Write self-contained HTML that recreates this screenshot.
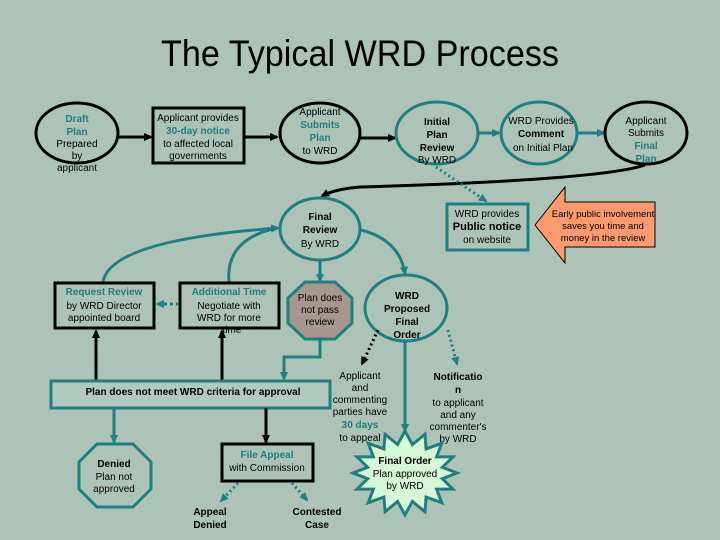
<!DOCTYPE html>
<html><head><meta charset="utf-8"><style>
html,body{margin:0;padding:0;background:#aec3b8;}
svg{display:block;}
text{font-family:"Liberation Sans",Arial,sans-serif;font-size:10px;fill:#000;text-anchor:middle;}
.b{font-weight:bold;}
.t{fill:#1f7f80;font-weight:bold;}
</style></head><body>
<svg width="720" height="540" viewBox="0 0 720 540" xmlns="http://www.w3.org/2000/svg">
<defs>
<marker id="ak" markerWidth="10" markerHeight="10" refX="7" refY="5" orient="auto" markerUnits="userSpaceOnUse"><path d="M0,1 L9,5 L0,9 z" fill="#000"/></marker>
<marker id="at" markerWidth="10" markerHeight="10" refX="7" refY="5" orient="auto" markerUnits="userSpaceOnUse"><path d="M0,1 L9,5 L0,9 z" fill="#1f7f80"/></marker>
</defs>
<rect width="720" height="540" fill="#aec3b8"/>
<text x="360" y="66" style="font-family:'Liberation Sans Narrow','Liberation Sans',sans-serif;font-size:37px" textLength="398" lengthAdjust="spacingAndGlyphs">The Typical WRD Process</text>

<!-- top row -->
<ellipse cx="77" cy="133" rx="41" ry="30" fill="none" stroke="#000" stroke-width="3"/>
<text x="77" y="122" class="t">Draft</text><text x="77" y="135" class="t">Plan</text>
<text x="77" y="147">Prepared</text><text x="77" y="159">by</text><text x="77" y="171">applicant</text>
<line x1="118" y1="137" x2="151" y2="137" stroke="#000" stroke-width="3" marker-end="url(#ak)"/>
<rect x="153" y="108" width="91" height="55" fill="none" stroke="#000" stroke-width="3"/>
<text x="198" y="121">Applicant provides</text><text x="198" y="134" class="t">30-day notice</text>
<text x="198" y="147">to affected local</text><text x="198" y="159">governments</text>
<line x1="244" y1="137" x2="277" y2="137" stroke="#000" stroke-width="3" marker-end="url(#ak)"/>
<ellipse cx="320" cy="133" rx="40" ry="30" fill="none" stroke="#000" stroke-width="3"/>
<text x="320" y="115">Applicant</text><text x="320" y="128" class="t">Submits</text><text x="320" y="141" class="t">Plan</text><text x="320" y="154">to WRD</text>
<line x1="360" y1="138" x2="395" y2="138" stroke="#000" stroke-width="3" marker-end="url(#ak)"/>
<ellipse cx="437" cy="133" rx="41" ry="31" fill="none" stroke="#1f7f80" stroke-width="3"/>
<text x="437" y="125" class="b">Initial</text><text x="437" y="138" class="b">Plan</text><text x="437" y="151" class="b">Review</text><text x="437" y="163">By WRD</text>
<line x1="478" y1="133" x2="499" y2="133" stroke="#1f7f80" stroke-width="3" marker-end="url(#at)"/>
<ellipse cx="539" cy="133" rx="38" ry="31" fill="none" stroke="#1f7f80" stroke-width="3"/>
<text x="541" y="124">WRD Provides</text><text x="541" y="137" class="b">Comment</text><text x="543" y="151">on Initial Plan</text>
<line x1="577" y1="133" x2="604" y2="133" stroke="#1f7f80" stroke-width="3" marker-end="url(#at)"/>
<ellipse cx="646" cy="133" rx="41" ry="31" fill="none" stroke="#000" stroke-width="3"/>
<text x="646" y="124">Applicant</text><text x="646" y="136">Submits</text><text x="646" y="149" class="t">Final</text><text x="646" y="162" class="t">Plan</text>

<!-- return curve -->
<path d="M645,165 Q600,180 360,187 Q335,189 322,196" fill="none" stroke="#000" stroke-width="3" marker-end="url(#ak)"/>
<path d="M436,167 L486,201" fill="none" stroke="#1f7f80" stroke-width="3" stroke-dasharray="2,3" marker-end="url(#at)"/>
<rect x="447" y="204" width="81" height="46" fill="none" stroke="#1f7f80" stroke-width="3"/>
<text x="487" y="217">WRD provides</text><text x="487" y="230" class="b" style="font-size:11px">Public notice</text><text x="487" y="243">on website</text>
<polygon points="535,225 565,187 565,202 655,202 655,247 565,247 565,263" fill="#fb9a6e" stroke="#000" stroke-width="1"/>
<text x="603" y="217" style="font-size:9.5px">Early public involvement</text><text x="603" y="229" style="font-size:9.5px">saves you time and</text><text x="603" y="241" style="font-size:9.5px">money in the review</text>

<!-- final review -->
<ellipse cx="320" cy="229" rx="40" ry="31" fill="none" stroke="#1f7f80" stroke-width="3"/>
<text x="320" y="220" class="b">Final</text><text x="320" y="233" class="b">Review</text><text x="320" y="247">By WRD</text>
<line x1="320" y1="260" x2="320" y2="281" stroke="#1f7f80" stroke-width="3" marker-end="url(#at)"/>
<path d="M361,230 Q400,240 405,274" fill="none" stroke="#1f7f80" stroke-width="3" marker-end="url(#at)"/>
<path d="M103,282 Q110,240 278,228" fill="none" stroke="#1f7f80" stroke-width="3" marker-end="url(#at)"/>
<path d="M229,282 Q225,240 276,228" fill="none" stroke="#1f7f80" stroke-width="3"/>
<polygon points="305,282 335,282 352,298 352,323 335,339 305,339 288,323 288,298" fill="#a8978f" stroke="#1f7f80" stroke-width="3"/>
<text x="320" y="301">Plan does</text><text x="320" y="313">not pass</text><text x="320" y="325">review</text>

<rect x="55" y="283" width="99" height="45" fill="none" stroke="#000" stroke-width="3"/>
<text x="104" y="295" class="t">Request Review</text><text x="104" y="309">by WRD Director</text><text x="104" y="321">appointed board</text>
<rect x="180" y="283" width="99" height="45" fill="none" stroke="#000" stroke-width="3"/>
<text x="229" y="295" class="t">Additional Time</text><text x="229" y="309">Negotiate with</text><text x="229" y="321">WRD for more</text><text x="232" y="333">time</text>
<line x1="179" y1="304" x2="157" y2="304" stroke="#1f7f80" stroke-width="3" stroke-dasharray="3,3" marker-end="url(#at)"/>
<line x1="96" y1="380" x2="96" y2="331" stroke="#000" stroke-width="3" marker-end="url(#ak)"/>
<line x1="222" y1="380" x2="222" y2="331" stroke="#000" stroke-width="3" marker-end="url(#ak)"/>

<!-- WRD proposed final order -->
<ellipse cx="406" cy="308" rx="41" ry="33" fill="none" stroke="#1f7f80" stroke-width="3"/>
<text x="407" y="299" class="b">WRD</text><text x="407" y="312" class="b">Proposed</text><text x="407" y="325" class="b">Final</text><text x="407" y="338" class="b">Order</text>
<path d="M378,330 L362,364" fill="none" stroke="#000" stroke-width="3" stroke-dasharray="2,3" marker-end="url(#ak)"/>
<path d="M448,330 L457,364" fill="none" stroke="#1f7f80" stroke-width="3" stroke-dasharray="2,3" marker-end="url(#at)"/>
<line x1="405" y1="341" x2="405" y2="431" stroke="#1f7f80" stroke-width="3" marker-end="url(#at)"/>
<text x="360" y="379">Applicant</text><text x="360" y="391">and</text><text x="360" y="403">commenting</text><text x="360" y="415">parties have</text>
<text x="360" y="428" class="t">30 days</text><text x="360" y="441">to appeal</text>
<text x="458" y="380" class="b">Notificatio</text><text x="458" y="393" class="b">n</text><text x="458" y="406">to applicant</text><text x="458" y="418">and any</text><text x="458" y="430">commenter's</text><text x="458" y="442">by WRD</text>

<!-- plan does not meet -->
<path d="M320,339 L320,357 L284,357 L284,379" fill="none" stroke="#1f7f80" stroke-width="3" marker-end="url(#at)"/>
<rect x="51" y="381" width="279" height="27" fill="#b2c9bf" stroke="#1f7f80" stroke-width="3"/>
<text x="193" y="395" class="b">Plan does not meet WRD criteria for approval</text>
<line x1="114" y1="408" x2="114" y2="442" stroke="#1f7f80" stroke-width="3" marker-end="url(#at)"/>
<polygon points="97,444 133,444 151,462 151,489 133,507 97,507 79,489 79,462" fill="none" stroke="#1f7f80" stroke-width="3"/>
<text x="114" y="467" class="b">Denied</text><text x="114" y="480">Plan not</text><text x="114" y="492">approved</text>
<line x1="266" y1="408" x2="266" y2="442" stroke="#000" stroke-width="3" marker-end="url(#ak)"/>
<rect x="222" y="444" width="91" height="37" fill="none" stroke="#000" stroke-width="3"/>
<text x="267" y="458" class="t">File Appeal</text><text x="267" y="471">with Commission</text>
<path d="M238,483 L221,501" fill="none" stroke="#1f7f80" stroke-width="3" stroke-dasharray="2,3" marker-end="url(#at)"/>
<path d="M292,483 L307,500" fill="none" stroke="#1f7f80" stroke-width="3" stroke-dasharray="2,3" marker-end="url(#at)"/>
<text x="210" y="515" class="b">Appeal</text><text x="210" y="528" class="b">Denied</text>
<text x="317" y="515" class="b">Contested</text><text x="317" y="528" class="b">Case</text>

<polygon points="457,473 442.3,478.7 453,489.1 436.6,489.1 441.8,502.7 426.1,497.1 424.9,511.8 412.4,501.4 405,515 397.6,501.4 385.1,511.8 383.9,497.1 368.2,502.7 373.4,489.1 357,489.1 367.7,478.7 353,473 367.7,467.3 357,456.9 373.4,456.9 368.2,443.3 383.9,448.9 385.1,434.2 397.6,444.6 405,431 412.4,444.6 424.9,434.2 426.1,448.9 441.8,443.3 436.6,456.9 453,456.9 442.3,467.3" fill="#d6f6d8" stroke="#1f7f80" stroke-width="3"/>
<text x="405" y="464" class="b">Final Order</text><text x="405" y="477">Plan approved</text><text x="405" y="489">by WRD</text>
</svg>
</body></html>
